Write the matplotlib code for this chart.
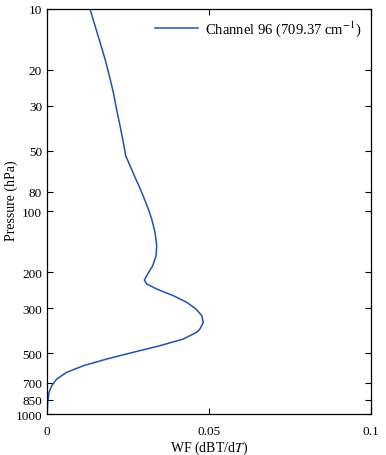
import numpy as np
import matplotlib.pyplot as plt
from matplotlib.ticker import FixedLocator, NullLocator

plt.rcParams['font.family'] = ['Liberation Serif', 'DejaVu Serif']
plt.rcParams['mathtext.fontset'] = 'stix'

# weighting function (hPa, dBT/dT)
pressure = [10.0, 12.09, 14.60, 17.65, 21.35, 25.79, 31.18, 37.70, 45.52,
            53.02, 59.40, 66.56, 80.40, 97.2, 108.9, 126.7, 147.5, 165.4,
            185.3, 203.5, 217.9, 228.0, 241.4, 260.5, 280.8, 303.0, 327.0,
            352.6, 380.4, 394.9, 426.1, 459.9, 495.7, 535.1, 577.6, 622.6,
            671.9, 725.1, 781.4, 875.5, 1000.0]
wf = [0.01327, 0.01481, 0.01636, 0.01790, 0.01923, 0.02046, 0.02145,
      0.02253, 0.02355, 0.02429, 0.02562, 0.02694, 0.02923, 0.03127,
      0.03231, 0.03333, 0.03386, 0.03364, 0.03262, 0.03108, 0.03003,
      0.03077, 0.03386, 0.03898, 0.04312, 0.04599, 0.04775, 0.04824,
      0.04720, 0.04620, 0.04207, 0.03488, 0.02664, 0.01843, 0.01120,
      0.00608, 0.00299, 0.00145, 0.00062, 0.00022, 0.0]

yticks = [10, 20, 30, 50, 80, 100, 200, 300, 500, 700, 850, 1000]
xticks = [0, 0.05, 0.1]
xticklabels = ['0', '0.05', '0.1']

fig = plt.figure(figsize=(3.86, 4.56), dpi=100)
ax = fig.add_axes([0.1218, 0.0899, 0.8394, 0.8882])

ax.plot(wf, pressure, color='#2052ad', lw=1.1,
        label='Channel 96 (709.37 cm$^{-1}$)')

ax.set_yscale('log')
ax.set_ylim(1000, 10)
ax.set_xlim(0, 0.1)
ax.yaxis.set_major_locator(FixedLocator(yticks))
ax.yaxis.set_minor_locator(NullLocator())
ax.set_yticklabels([str(t) for t in yticks])
ax.set_xticks(xticks)
ax.set_xticklabels(xticklabels)

ax.tick_params(direction='in', top=True, right=True, length=4, width=0.8,
               labelsize=9.5, colors='black')
ax.tick_params(axis='x', pad=8)
for s in ax.spines.values():
    s.set_linewidth(0.9)

ax.set_ylabel('Pressure (hPa)', fontsize=10)
ax.yaxis.set_label_coords(-0.09, 0.53)
ax.set_xlabel('WF (dBT/d$T$)', fontsize=10, labelpad=1)

ax.legend(loc='upper right', frameon=False, fontsize=10.5, handlelength=2.9,
          handletextpad=0.5, borderaxespad=0.25)

fig.savefig('out.png', dpi=100)
